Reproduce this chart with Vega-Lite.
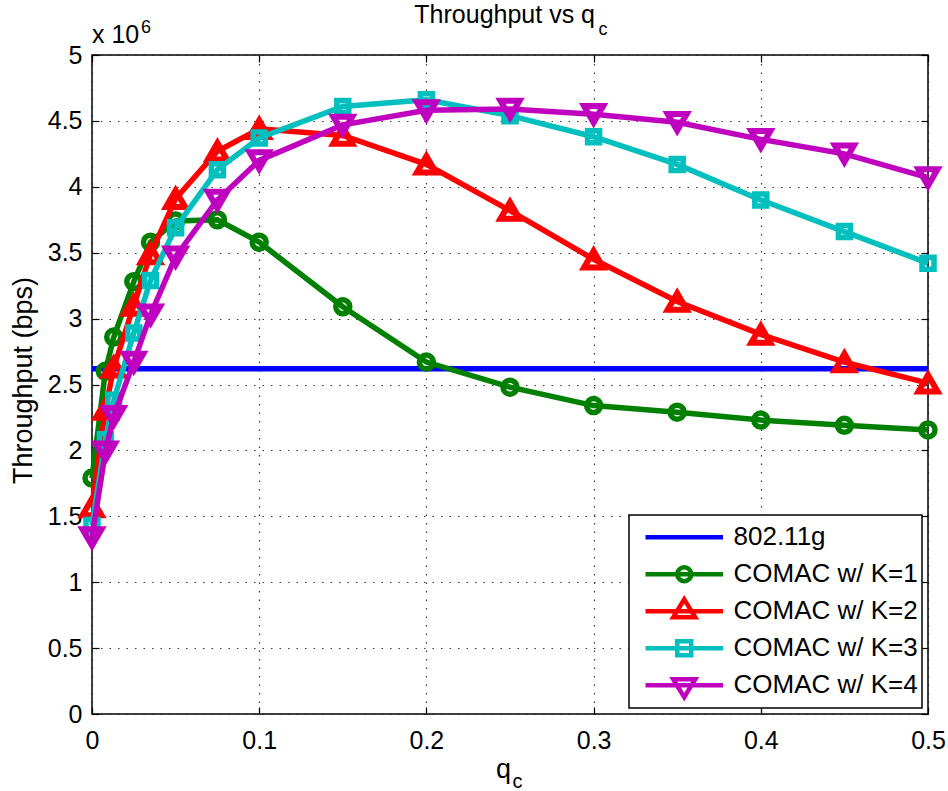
{
  "$schema": "https://vega.github.io/schema/vega-lite/v6.json",
  "width": 836,
  "height": 659,
  "autosize": "none",
  "padding": {"left": 92, "top": 55, "right": 20, "bottom": 77},
  "background": "white",
  "datasets": {
    "tp": [
      {"series": "802.11g", "q": 0, "throughput": 2620000},
      {"series": "802.11g", "q": 0.5, "throughput": 2620000},
      {"series": "COMAC w/ K=1", "q": 0, "throughput": 1790000},
      {"series": "COMAC w/ K=1", "q": 0.008, "throughput": 2600000},
      {"series": "COMAC w/ K=1", "q": 0.013, "throughput": 2860000},
      {"series": "COMAC w/ K=1", "q": 0.025, "throughput": 3280000},
      {"series": "COMAC w/ K=1", "q": 0.035, "throughput": 3580000},
      {"series": "COMAC w/ K=1", "q": 0.05, "throughput": 3740000},
      {"series": "COMAC w/ K=1", "q": 0.075, "throughput": 3750000},
      {"series": "COMAC w/ K=1", "q": 0.1, "throughput": 3580000},
      {"series": "COMAC w/ K=1", "q": 0.15, "throughput": 3090000},
      {"series": "COMAC w/ K=1", "q": 0.2, "throughput": 2670000},
      {"series": "COMAC w/ K=1", "q": 0.25, "throughput": 2480000},
      {"series": "COMAC w/ K=1", "q": 0.3, "throughput": 2340000},
      {"series": "COMAC w/ K=1", "q": 0.35, "throughput": 2290000},
      {"series": "COMAC w/ K=1", "q": 0.4, "throughput": 2230000},
      {"series": "COMAC w/ K=1", "q": 0.45, "throughput": 2190000},
      {"series": "COMAC w/ K=1", "q": 0.5, "throughput": 2155000},
      {"series": "COMAC w/ K=2", "q": 0, "throughput": 1570000},
      {"series": "COMAC w/ K=2", "q": 0.008, "throughput": 2310000},
      {"series": "COMAC w/ K=2", "q": 0.013, "throughput": 2630000},
      {"series": "COMAC w/ K=2", "q": 0.025, "throughput": 3100000},
      {"series": "COMAC w/ K=2", "q": 0.035, "throughput": 3490000},
      {"series": "COMAC w/ K=2", "q": 0.05, "throughput": 3910000},
      {"series": "COMAC w/ K=2", "q": 0.075, "throughput": 4270000},
      {"series": "COMAC w/ K=2", "q": 0.1, "throughput": 4440000},
      {"series": "COMAC w/ K=2", "q": 0.15, "throughput": 4390000},
      {"series": "COMAC w/ K=2", "q": 0.2, "throughput": 4170000},
      {"series": "COMAC w/ K=2", "q": 0.25, "throughput": 3820000},
      {"series": "COMAC w/ K=2", "q": 0.3, "throughput": 3450000},
      {"series": "COMAC w/ K=2", "q": 0.35, "throughput": 3130000},
      {"series": "COMAC w/ K=2", "q": 0.4, "throughput": 2880000},
      {"series": "COMAC w/ K=2", "q": 0.45, "throughput": 2670000},
      {"series": "COMAC w/ K=2", "q": 0.5, "throughput": 2510000},
      {"series": "COMAC w/ K=3", "q": 0, "throughput": 1430000},
      {"series": "COMAC w/ K=3", "q": 0.008, "throughput": 2080000},
      {"series": "COMAC w/ K=3", "q": 0.013, "throughput": 2380000},
      {"series": "COMAC w/ K=3", "q": 0.025, "throughput": 2890000},
      {"series": "COMAC w/ K=3", "q": 0.035, "throughput": 3290000},
      {"series": "COMAC w/ K=3", "q": 0.05, "throughput": 3690000},
      {"series": "COMAC w/ K=3", "q": 0.075, "throughput": 4130000},
      {"series": "COMAC w/ K=3", "q": 0.1, "throughput": 4370000},
      {"series": "COMAC w/ K=3", "q": 0.15, "throughput": 4610000},
      {"series": "COMAC w/ K=3", "q": 0.2, "throughput": 4660000},
      {"series": "COMAC w/ K=3", "q": 0.25, "throughput": 4540000},
      {"series": "COMAC w/ K=3", "q": 0.3, "throughput": 4380000},
      {"series": "COMAC w/ K=3", "q": 0.35, "throughput": 4170000},
      {"series": "COMAC w/ K=3", "q": 0.4, "throughput": 3900000},
      {"series": "COMAC w/ K=3", "q": 0.45, "throughput": 3660000},
      {"series": "COMAC w/ K=3", "q": 0.5, "throughput": 3420000},
      {"series": "COMAC w/ K=4", "q": 0, "throughput": 1340000},
      {"series": "COMAC w/ K=4", "q": 0.008, "throughput": 1990000},
      {"series": "COMAC w/ K=4", "q": 0.013, "throughput": 2260000},
      {"series": "COMAC w/ K=4", "q": 0.025, "throughput": 2670000},
      {"series": "COMAC w/ K=4", "q": 0.035, "throughput": 3030000},
      {"series": "COMAC w/ K=4", "q": 0.05, "throughput": 3470000},
      {"series": "COMAC w/ K=4", "q": 0.075, "throughput": 3900000},
      {"series": "COMAC w/ K=4", "q": 0.1, "throughput": 4200000},
      {"series": "COMAC w/ K=4", "q": 0.15, "throughput": 4470000},
      {"series": "COMAC w/ K=4", "q": 0.2, "throughput": 4580000},
      {"series": "COMAC w/ K=4", "q": 0.25, "throughput": 4590000},
      {"series": "COMAC w/ K=4", "q": 0.3, "throughput": 4550000},
      {"series": "COMAC w/ K=4", "q": 0.35, "throughput": 4490000},
      {"series": "COMAC w/ K=4", "q": 0.4, "throughput": 4360000},
      {"series": "COMAC w/ K=4", "q": 0.45, "throughput": 4250000},
      {"series": "COMAC w/ K=4", "q": 0.5, "throughput": 4070000}
    ]
  },
  "data": {"name": "tp"},
  "config": {
    "font": "Liberation Sans",
    "view": {"stroke": "black", "strokeWidth": 1.5},
    "axis": {
      "labelFont": "Liberation Sans",
      "labelFontSize": 25,
      "labelColor": "black",
      "titleFont": "Liberation Sans",
      "titleFontSize": 27,
      "titleFontWeight": "normal",
      "titleColor": "black",
      "tickColor": "black",
      "tickSize": -7,
      "tickWidth": 1.2,
      "domain": false,
      "gridColor": "#222222",
      "gridDash": [1.5, 7],
      "gridWidth": 1.2,
      "gridOpacity": 0.9,
      "labelOverlap": false,
      "labelFlush": false
    },
    "legend": {
      "orient": "bottom-right",
      "offset": 6,
      "direction": "vertical",
      "strokeColor": "black",
      "strokeWidth": 1.5,
      "fillColor": "white",
      "padding": 4,
      "labelFont": "Liberation Sans",
      "labelFontSize": 26,
      "labelColor": "black",
      "labelLimit": 400,
      "symbolSize": 961,
      "symbolStrokeWidth": 4.5,
      "symbolOpacity": 1,
      "labelOffset": 64.5,
      "rowPadding": 0,
      "clipHeight": 36.5
    }
  },
  "layer": [
    {
      "transform": [{"filter": "datum.series === '802.11g'"}],
      "mark": {"type": "line", "strokeWidth": 5.5, "color": "#0000ff"},
      "encoding": {
        "x": {
          "field": "q", "type": "quantitative",
          "scale": {"domain": [0, 0.5], "nice": false, "zero": false},
          "axis": {
            "orient": "bottom", "values": [0, 0.1, 0.2, 0.3, 0.4, 0.5], "format": "~g",
            "grid": true, "title": "q", "labelPadding": 21,
            "titleX": 411, "titleY": 63, "titleAlign": "center", "titleBaseline": "alphabetic"
          }
        },
        "y": {
          "field": "throughput", "type": "quantitative",
          "scale": {"domain": [0, 5000000], "nice": false},
          "axis": {
            "orient": "left",
            "values": [0, 500000, 1000000, 1500000, 2000000, 2500000, 3000000, 3500000, 4000000, 4500000, 5000000],
            "labelExpr": "datum.value / 1000000",
            "grid": true, "title": "Throughput (bps)", "labelPadding": 17,
            "titleX": -61, "titleY": 325, "titleAngle": -90, "titleAlign": "center", "titleBaseline": "alphabetic"
          }
        }
      }
    },
    {
      "transform": [{"filter": "datum.series === 'COMAC w/ K=1'"}],
      "mark": {"type": "line", "strokeWidth": 5.5, "color": "#008000"},
      "encoding": {
        "x": {"field": "q", "type": "quantitative", "axis": null},
        "y": {"field": "throughput", "type": "quantitative", "axis": null}
      }
    },
    {
      "transform": [{"filter": "datum.series === 'COMAC w/ K=1'"}],
      "mark": {"type": "point", "shape": "circle", "size": 196, "strokeWidth": 5.5, "filled": false, "opacity": 1, "color": "#008000"},
      "encoding": {
        "x": {"field": "q", "type": "quantitative", "axis": null},
        "y": {"field": "throughput", "type": "quantitative", "axis": null}
      }
    },
    {
      "transform": [{"filter": "datum.series === 'COMAC w/ K=2'"}],
      "mark": {"type": "line", "strokeWidth": 5.5, "color": "#ff0000"},
      "encoding": {
        "x": {"field": "q", "type": "quantitative", "axis": null},
        "y": {"field": "throughput", "type": "quantitative", "axis": null}
      }
    },
    {
      "transform": [{"filter": "datum.series === 'COMAC w/ K=2'"}],
      "mark": {"type": "point", "shape": "triangle-up", "size": 361, "strokeWidth": 6, "filled": false, "opacity": 1, "color": "#ff0000"},
      "encoding": {
        "x": {"field": "q", "type": "quantitative", "axis": null},
        "y": {"field": "throughput", "type": "quantitative", "axis": null}
      }
    },
    {
      "transform": [{"filter": "datum.series === 'COMAC w/ K=3'"}],
      "mark": {"type": "line", "strokeWidth": 5.5, "color": "#00bfbf"},
      "encoding": {
        "x": {"field": "q", "type": "quantitative", "axis": null},
        "y": {"field": "throughput", "type": "quantitative", "axis": null}
      }
    },
    {
      "transform": [{"filter": "datum.series === 'COMAC w/ K=3'"}],
      "mark": {"type": "point", "shape": "square", "size": 144, "strokeWidth": 5.5, "filled": false, "opacity": 1, "color": "#00bfbf"},
      "encoding": {
        "x": {"field": "q", "type": "quantitative", "axis": null},
        "y": {"field": "throughput", "type": "quantitative", "axis": null}
      }
    },
    {
      "transform": [{"filter": "datum.series === 'COMAC w/ K=4'"}],
      "mark": {"type": "line", "strokeWidth": 5.5, "color": "#bf00bf"},
      "encoding": {
        "x": {"field": "q", "type": "quantitative", "axis": null},
        "y": {"field": "throughput", "type": "quantitative", "axis": null}
      }
    },
    {
      "transform": [{"filter": "datum.series === 'COMAC w/ K=4'"}],
      "mark": {"type": "point", "shape": "triangle-down", "size": 361, "strokeWidth": 6, "filled": false, "opacity": 1, "color": "#bf00bf"},
      "encoding": {
        "x": {"field": "q", "type": "quantitative", "axis": null},
        "y": {"field": "throughput", "type": "quantitative", "axis": null}
      }
    },
    {
      "mark": {"type": "point", "filled": false, "opacity": 0, "size": 1, "strokeWidth": 4.5},
      "encoding": {
        "x": {
          "field": "q", "type": "quantitative",
          "axis": {"orient": "top", "labels": false, "grid": false, "title": null, "values": [0, 0.1, 0.2, 0.3, 0.4, 0.5]}
        },
        "y": {
          "field": "throughput", "type": "quantitative",
          "axis": {
            "orient": "right", "labels": false, "grid": false, "title": null,
            "values": [0, 500000, 1000000, 1500000, 2000000, 2500000, 3000000, 3500000, 4000000, 4500000, 5000000]
          }
        },
        "color": {
          "field": "series", "type": "nominal",
          "scale": {
            "domain": ["802.11g", "COMAC w/ K=1", "COMAC w/ K=2", "COMAC w/ K=3", "COMAC w/ K=4"],
            "range": ["#0000ff", "#008000", "#ff0000", "#00bfbf", "#bf00bf"]
          },
          "legend": {"title": null}
        },
        "shape": {
          "field": "series", "type": "nominal",
          "scale": {
            "domain": ["802.11g", "COMAC w/ K=1", "COMAC w/ K=2", "COMAC w/ K=3", "COMAC w/ K=4"],
            "range": [
              "M-0.355,0L4.645,0",
              "M-0.355,0L4.645,0M2.595,0A0.45,0.45,0,1,1,1.695,0A0.45,0.45,0,1,1,2.595,0Z",
              "M-0.355,0L4.645,0M2.145,-0.77L2.855,0.39L1.435,0.39Z",
              "M-0.355,0L4.645,0M1.695,-0.45L2.595,-0.45L2.595,0.45L1.695,0.45Z",
              "M-0.355,0L4.645,0M2.145,0.77L2.855,-0.39L1.435,-0.39Z"
            ]
          },
          "legend": {"title": null}
        }
      }
    },
    {
      "data": {"values": [{}]},
      "mark": {"type": "text", "text": "Throughput vs q", "font": "Liberation Sans", "fontSize": 25, "align": "center", "baseline": "alphabetic", "color": "black"},
      "encoding": {
        "x": {"datum": 0.2468, "type": "quantitative", "axis": null},
        "y": {"datum": 5242800, "type": "quantitative", "axis": null}
      }
    },
    {
      "data": {"values": [{}]},
      "mark": {"type": "text", "text": "c", "font": "Liberation Sans", "fontSize": 18, "align": "left", "baseline": "alphabetic", "color": "black"},
      "encoding": {
        "x": {"datum": 0.303, "type": "quantitative", "axis": null},
        "y": {"datum": 5151700, "type": "quantitative", "axis": null}
      }
    },
    {
      "data": {"values": [{}]},
      "mark": {"type": "text", "text": "c", "font": "Liberation Sans", "fontSize": 20, "align": "left", "baseline": "alphabetic", "color": "black"},
      "encoding": {
        "x": {"datum": 0.2515, "type": "quantitative", "axis": null},
        "y": {"datum": -561400, "type": "quantitative", "axis": null}
      }
    },
    {
      "data": {"values": [{}]},
      "mark": {"type": "text", "text": "x 10", "font": "Liberation Sans", "fontSize": 25, "align": "left", "baseline": "alphabetic", "color": "black"},
      "encoding": {
        "x": {"datum": 0, "type": "quantitative", "axis": null},
        "y": {"datum": 5091000, "type": "quantitative", "axis": null}
      }
    },
    {
      "data": {"values": [{}]},
      "mark": {"type": "text", "text": "6", "font": "Liberation Sans", "fontSize": 18, "align": "left", "baseline": "alphabetic", "color": "black"},
      "encoding": {
        "x": {"datum": 0.0293, "type": "quantitative", "axis": null},
        "y": {"datum": 5166900, "type": "quantitative", "axis": null}
      }
    }
  ]
}
